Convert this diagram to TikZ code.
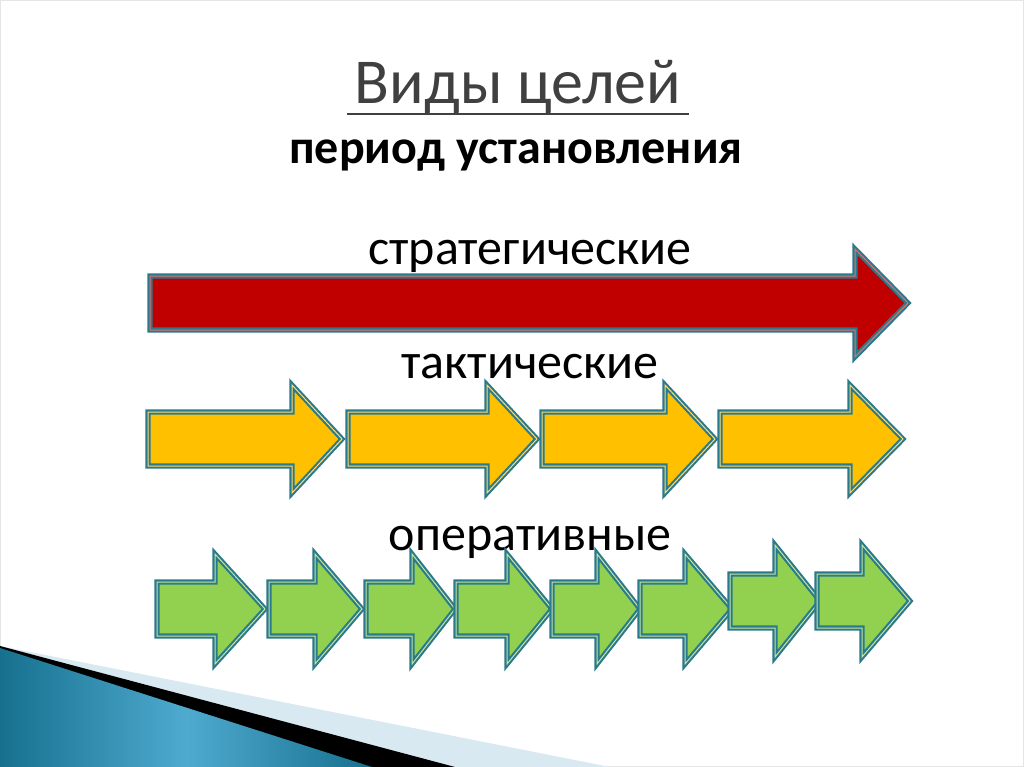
\documentclass[tikz,border=0pt]{standalone}
\usepackage{fontspec}
\setmainfont{Carlito}
\definecolor{edgeteal}{HTML}{2B7A8C}
\definecolor{titlegray}{HTML}{404040}
\definecolor{stratred}{HTML}{C00000}
\definecolor{taktyellow}{HTML}{FFC000}
\definecolor{opergreen}{HTML}{92D050}
\definecolor{wedgeblue}{HTML}{16708E}
\definecolor{wedgelight}{HTML}{4FAAD0}
\definecolor{bandlight}{HTML}{D8E9F1}
% block arrow: [style](left:base:tip)(centre y:half body:half head)
\def\blockarrow[#1](#2:#3:#4)(#5:#6:#7){\draw[#1] (#2,#5-#6) -- (#3,#5-#6) -- (#3,#5-#7) -- (#4,#5) -- (#3,#5+#7) -- (#3,#5+#6) -- (#2,#5+#6) -- cycle;}
\tikzset{
  goalarrow/.style={draw=edgeteal, line width=2.1, double=#1!55!white, double distance=1, line join=miter, fill=#1},
  label/.style={anchor=base, font=\fontsize{50}{56}\selectfont}
}

\begin{document}
\begin{tikzpicture}[x=1pt, y=-1pt]
			%%%%% START %%%%%
			\useasboundingbox (0,0) rectangle (1024,767);
			\draw[gray!20, line width=1] (0.5,0.5) rectangle (1023.5,766.5);
			
			% headings
			\node[anchor=base, text=titlegray, font=\fontsize{64}{70}\selectfont] (title) at (518,104) {Виды целей};
			\draw[titlegray, line width=2] ([xshift=-4, yshift=-10]title.base west) -- ([xshift=4, yshift=-10]title.base east);
			\node[anchor=base, font=\bfseries\fontsize{48}{54}\selectfont] (period) at (516,164) {период установления};
			
			% strategic
			\node[label] (strat) at (530,264) {стратегические};
			\blockarrow[goalarrow=stratred](150:855:908)(303:27:54)
			
			% tactical
			\node[label] (takt) at (530,378) {тактические};
			\blockarrow[goalarrow=taktyellow](148:292:342)(439:27:54)
			\blockarrow[goalarrow=taktyellow](348:487:537)(439:27:54)
			\blockarrow[goalarrow=taktyellow](542:665:715)(439:27:54)
			\blockarrow[goalarrow=taktyellow](720:850:903)(439:27:54)
			
			% operative
			\node[label] (oper) at (530,550) {оперативные};
			\blockarrow[goalarrow=opergreen](157:215:265)(609:27:55)
			\blockarrow[goalarrow=opergreen](269:315:362)(609:27:55)
			\blockarrow[goalarrow=opergreen](366:412:455)(609:27:55)
			\blockarrow[goalarrow=opergreen](456:507:552)(609:27:55)
			\blockarrow[goalarrow=opergreen](552:597:640)(609:27:55)
			\blockarrow[goalarrow=opergreen](640:685:732)(609:27:55)
			\blockarrow[goalarrow=opergreen](730:775:820)(601:27:56)
			\blockarrow[goalarrow=opergreen](817:862:910)(601:27:56)
			
			% corner wedges
			\fill[bandlight] (0,646) -- (610,767) -- (0,767) -- cycle;
			\fill[black] (0,646) -- (455,767) -- (0,767) -- cycle;
			\shade[left color=wedgeblue, right color=wedgeblue, middle color=wedgelight] (0,648) -- (372,767) -- (0,767) -- cycle;
			
			%%%%% END %%%%%
\end{tikzpicture}
\end{document}
